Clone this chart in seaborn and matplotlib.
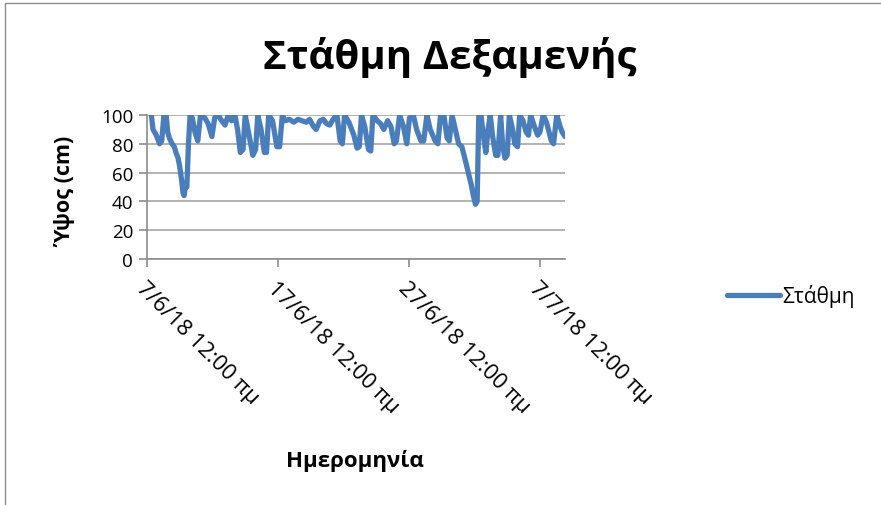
import numpy as np
import pandas as pd
import seaborn as sns
import matplotlib
matplotlib.use("Agg")
import matplotlib.pyplot as plt
from matplotlib.patches import Rectangle

# Tank level readings: hours since 7/6/2018 00:00 and level in cm
hours = [8, 11, 17, 23, 27, 31, 35, 38, 41, 46, 50, 53, 57, 60, 63, 66, 68, 71, 73, 76, 79,
         83, 88, 93, 98, 106, 112, 119, 124, 130, 137, 143, 149, 155, 161, 166, 171, 176, 180,
         186, 194, 199, 203, 209, 215, 219, 223, 230, 238, 243, 248,
         253, 261, 269, 277, 284, 292, 298, 305, 310, 317, 323, 329, 335, 341, 348,
         354, 358, 362, 370, 379, 385, 389, 393, 399, 406, 410, 414, 422, 428, 434, 441, 447,
         453, 457, 463, 470, 476, 481, 488, 494, 502, 507, 513, 519, 528, 533, 538, 544, 550,
         554, 559, 565, 571, 577, 581, 585, 590, 594, 598, 602, 605, 608,
         612, 617, 621, 625, 629, 633, 639, 643, 648, 652, 656, 660, 664, 670, 674, 679, 683,
         689, 695, 699, 703, 710, 716, 720, 726, 732, 741, 745, 751, 757, 761, 766]
levels = [100, 90, 86, 80, 82, 100, 100, 88, 84, 80, 78, 74, 70, 64, 56, 46, 44, 52, 50, 80, 100,
          98, 88, 82, 100, 98, 94, 85, 98, 100, 96, 93, 100, 96, 100, 90, 74, 76, 100,
          88, 72, 76, 100, 90, 74, 74, 100, 96, 78, 78, 100,
          96, 97, 95, 97, 96, 95, 97, 92, 90, 96, 97, 94, 93, 97, 100,
          82, 80, 100, 95, 86, 77, 78, 100, 92, 76, 75, 100, 96, 94, 90, 96, 92,
          80, 82, 100, 92, 80, 98, 100, 90, 82, 82, 100, 90, 82, 80, 100, 100, 84,
          82, 100, 90, 80, 78, 72, 66, 58, 52, 44, 38, 40, 100,
          100, 84, 74, 90, 100, 86, 72, 72, 100, 78, 70, 72, 100, 90, 80, 78, 100,
          96, 88, 86, 100, 92, 86, 88, 100, 95, 82, 80, 100, 92, 88, 85]

tick_dates = ["2018-06-07", "2018-06-17", "2018-06-27", "2018-07-07"]
tick_labels = ["7/6/18 12:00 πμ", "17/6/18 12:00 πμ", "27/6/18 12:00 πμ", "7/7/18 12:00 πμ"]
y_ticks = [0, 20, 40, 60, 80, 100]

title = "Στάθμη Δεξαμενής"
series_name = "Στάθμη"

start = pd.Timestamp("2018-06-07")
df = pd.DataFrame({
    "time": start + pd.to_timedelta(hours, unit="h"),
    "level": levels,
})

sns.set_theme(style="white")
plt.rcParams["font.family"] = ["Open Sans", "DejaVu Sans"]
plt.rcParams["text.color"] = "black"
plt.rcParams["axes.labelcolor"] = "black"
plt.rcParams["xtick.color"] = "black"
plt.rcParams["ytick.color"] = "black"

fig = plt.figure(figsize=(8.81, 5.06), dpi=100)
ax = fig.add_axes([147 / 881, 1 - 260 / 506, 418 / 881, 144 / 506])

sns.lineplot(data=df, x="time", y="level", ax=ax, color="#4a7ebb",
             linewidth=3.8, label=series_name, legend=False)

ax.set_ylim(0, 100)
ax.set_xlim(start, start + pd.Timedelta(hours=766))
ax.set_yticks(y_ticks)
ax.set_yticklabels([str(v) for v in y_ticks], fontsize=13.5)
ax.set_xticks(pd.to_datetime(tick_dates))
ax.set_xticklabels(tick_labels, fontsize=16, rotation=-45, ha="left",
                   va="top", rotation_mode="anchor")

ax.grid(axis="y", color="#a6a6a6", linewidth=1.2)
ax.set_axisbelow(True)
for side in ["top", "right"]:
    ax.spines[side].set_visible(False)
for side in ["left", "bottom"]:
    ax.spines[side].set_color("#8c8c8c")
    ax.spines[side].set_linewidth(1.2)
ax.tick_params(axis="y", which="major", length=6, width=1.2, color="#8c8c8c",
               labelcolor="black", direction="out", left=True, pad=4)
ax.tick_params(axis="x", which="major", length=6, width=1.2, color="#8c8c8c",
               labelcolor="black", direction="out", bottom=True, pad=7)

ax.set_ylabel("Ύψος (cm)", fontsize=15.5, fontweight="bold")
ax.yaxis.set_label_coords((76 - 147) / 418, 0.47)
ax.set_xlabel("")
fig.text(355 / 881, 1 - 461 / 506, "Ημερομηνία", fontsize=16, fontweight="bold",
         ha="center", va="center")
fig.text(450 / 881, 1 - 57 / 506, title, fontsize=29, fontweight="bold",
         ha="center", va="center")

handles, labels = ax.get_legend_handles_labels()
fig.legend(handles, labels, loc="center left", bbox_to_anchor=(717 / 881, 1 - 297 / 506),
           frameon=False, fontsize=15, handlelength=2.5, handletextpad=0.15,
           borderpad=0)

fig.patches.append(Rectangle((5 / 881, -0.01), 1.0, 1 - 4 / 506 + 0.01,
                             transform=fig.transFigure, fill=False,
                             edgecolor="#8c8c8c", linewidth=1.0))

fig.savefig("out.png", dpi=100)
